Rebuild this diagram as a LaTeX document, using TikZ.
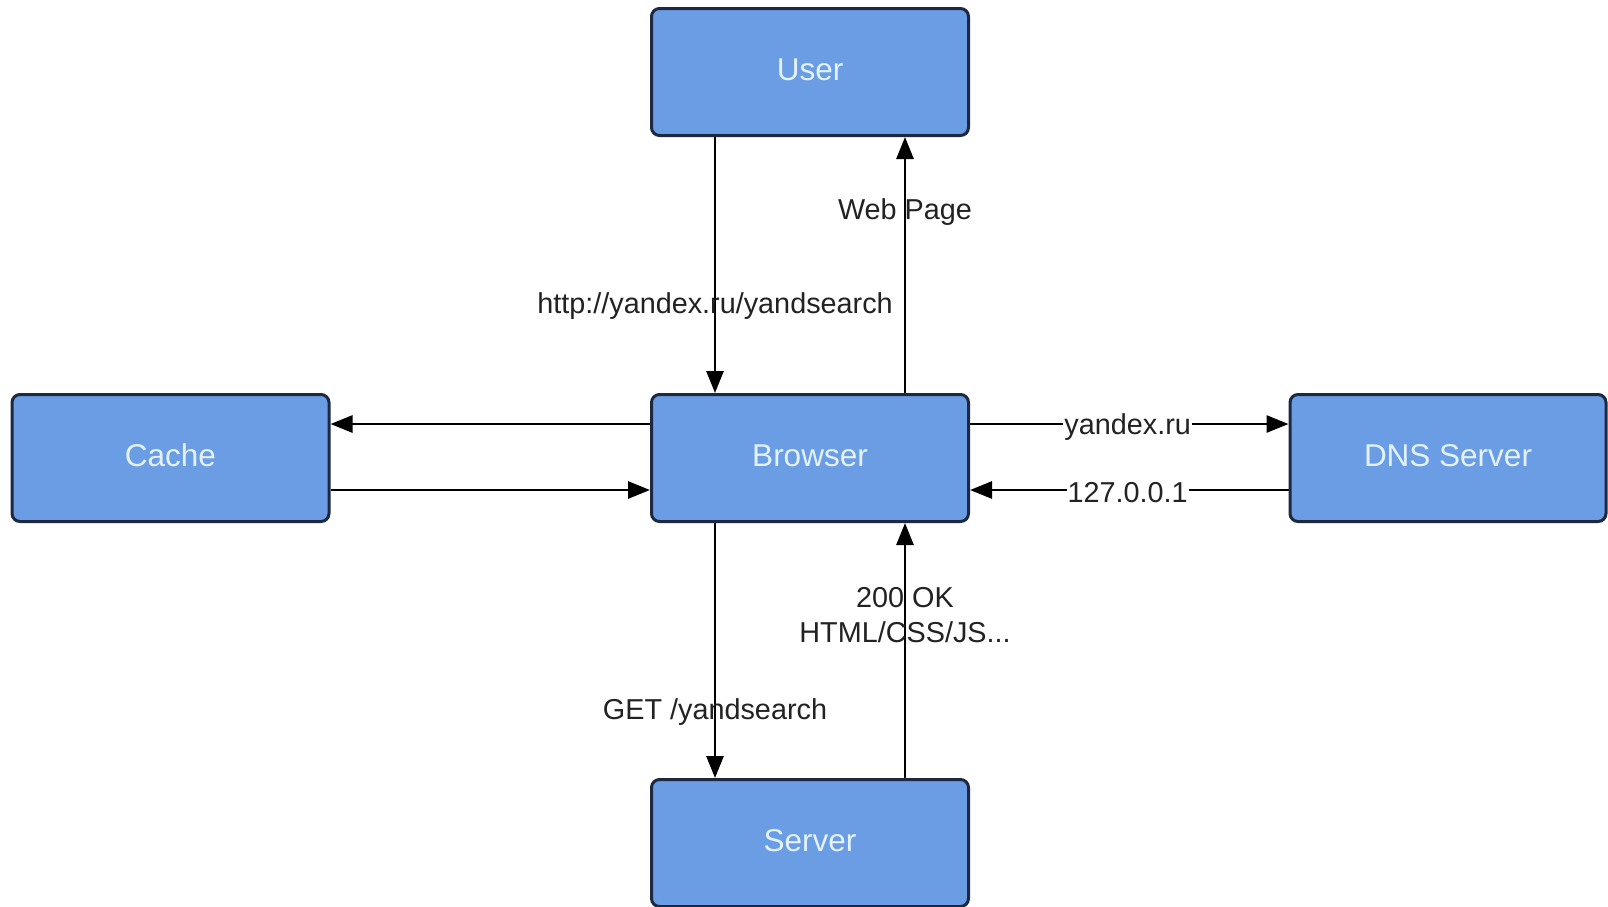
\documentclass[tikz,border=0pt]{standalone}
\usepackage{fontspec}
\setmainfont{Liberation Sans}
\usetikzlibrary{arrows.meta}
\definecolor{boxfill}{HTML}{6A9DE3}
\definecolor{boxline}{HTML}{1E2940}
\definecolor{boxtext}{HTML}{E4F2FF}
\definecolor{lbltext}{HTML}{222222}
\tikzset{
  blockbox/.style={draw=boxline, line width=3pt, fill=boxfill, rounded corners=8pt,
    minimum width=317pt, minimum height=127pt, inner sep=0pt,
    text=boxtext, font=\fontsize{31.5}{36}\selectfont},
  arr/.style={draw=black, line width=2.8pt, -{Triangle[length=22pt,width=17pt]}},
  lbl/.style={font=\fontsize{28.8}{35}\selectfont, text=lbltext, inner sep=1pt, align=center},
  lblw/.style={lbl, fill=white, yshift=-3pt}
}
\newcommand{\boxlab}[1]{\raisebox{5pt}{#1}}
\begin{document}
\begin{tikzpicture}[x=1pt,y=-1pt]
\useasboundingbox (0,0) rectangle (1608,906);
\fill[white] (0,0) rectangle (1608,906);
\node[blockbox] (user) at (810,72) {\boxlab{User}};
\node[blockbox] (browser) at (810,458) {\boxlab{Browser}};
\node[blockbox] (cache) at (170.5,458) {\boxlab{Cache}};
\node[blockbox, minimum width=316pt] (dns) at (1448,458) {\boxlab{DNS Server}};
\node[blockbox] (server) at (810,843) {\boxlab{Server}};
% user <-> browser
\draw[arr] ([xshift=-95pt]user.south) -- node[lbl, pos=0.66] {http://yandex.ru/yandsearch} ([xshift=-95pt]browser.north);
\draw[arr] ([xshift=95pt]browser.north) -- node[lbl, pos=0.705] {Web Page} ([xshift=95pt]user.south);
% browser <-> cache
\draw[arr] ([yshift=34pt]browser.west) -- ([yshift=34pt]cache.east);
\draw[arr] ([yshift=-32pt]cache.east) -- ([yshift=-32pt]browser.west);
% browser <-> dns
\draw[arr] ([yshift=34pt]browser.east) -- node[lblw, pos=0.495] {yandex.ru} ([yshift=34pt]dns.west);
\draw[arr] ([yshift=-32pt]dns.west) -- node[lblw, pos=0.505] {127.0.0.1} ([yshift=-32pt]browser.east);
% browser <-> server
\draw[arr] ([xshift=-95pt]browser.south) -- node[lbl, pos=0.74] {GET /yandsearch} ([xshift=-95pt]server.north);
\draw[arr] ([xshift=95pt]server.north) -- node[lbl, pos=0.64] {200 OK\\HTML/CSS/JS...} ([xshift=95pt]browser.south);
\end{tikzpicture}
\end{document}
